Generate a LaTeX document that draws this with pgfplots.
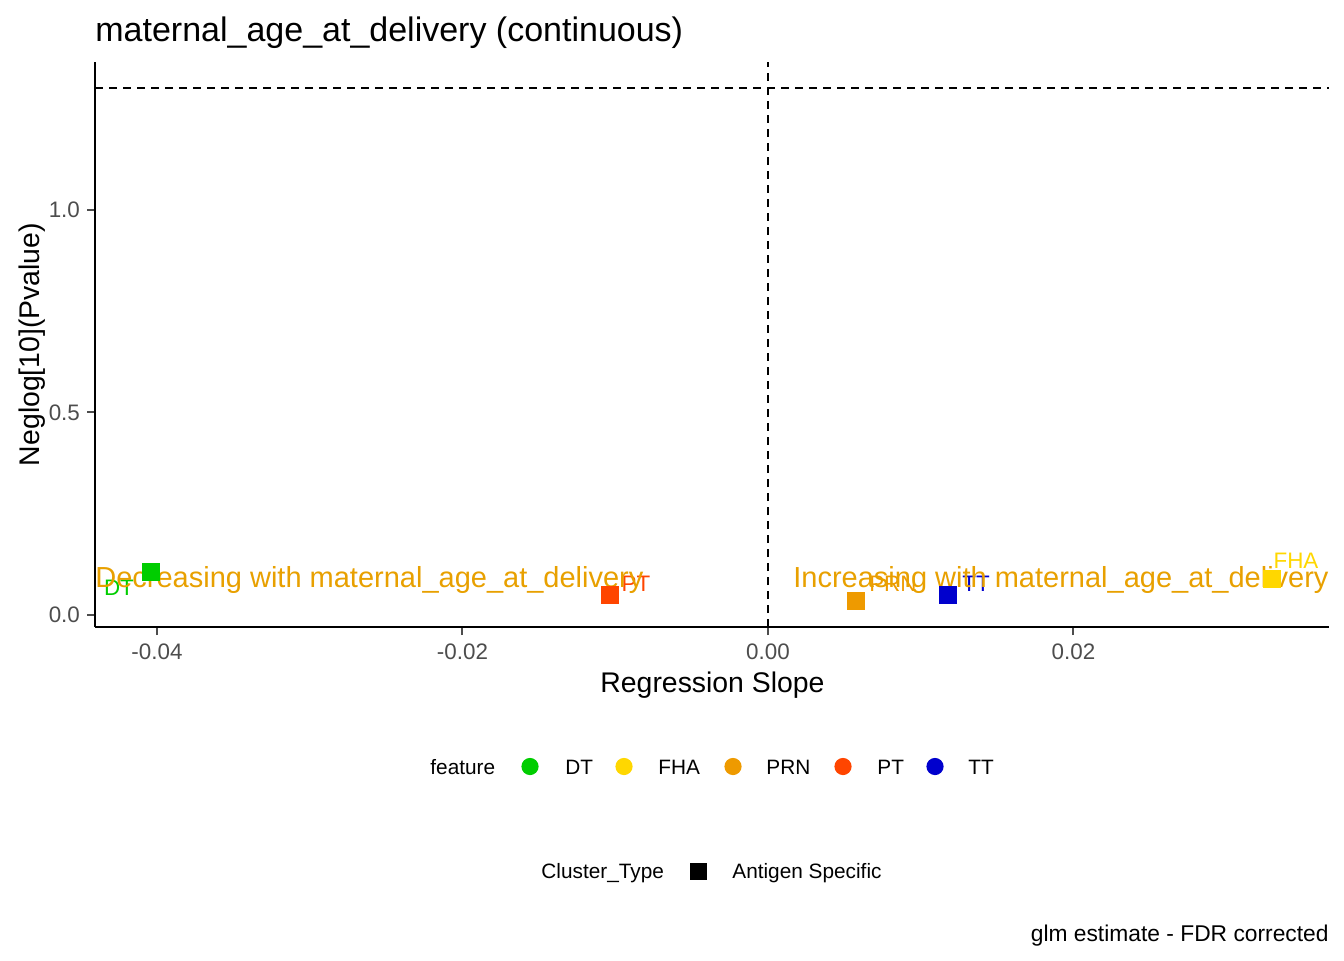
\documentclass[border=0pt]{standalone}
\usepackage{fontspec}
\setmainfont{Liberation Sans}
\usepackage{pgfplots}
\pgfplotsset{compat=1.18}
\definecolor{DTc}{RGB}{0,205,0}
\definecolor{FHAc}{RGB}{255,215,0}
\definecolor{PRNc}{RGB}{238,154,0}
\definecolor{PTc}{RGB}{255,69,0}
\definecolor{TTc}{RGB}{0,0,205}
\definecolor{annc}{RGB}{232,160,0}
\definecolor{tickgray}{RGB}{77,77,77}
\newcommand{\fs}[1]{\fontsize{#1}{#1}\selectfont}
\begin{document}
\begin{tikzpicture}[x=1pt,y=1pt]
\useasboundingbox (0,0) rectangle (672,480);
\begin{axis}[
  at={(47.5pt,166.5pt)}, anchor=south west, scale only axis,
  width=617pt, height=282.5pt,
  xmin=-0.04406, xmax=0.03673, ymin=-0.0296, ymax=1.365,
  axis x line*=bottom, axis y line*=left,
  axis line style={black, line width=1pt, -},
  scaled x ticks=false, scaled y ticks=false,
  xtick={-0.04,-0.02,0,0.02}, xticklabels={-0.04,-0.02,0.00,0.02},
  ytick={0,0.5,1}, yticklabels={0.0,0.5,1.0},
  tick align=outside, major tick length=4pt,
  tick style={tickgray, line width=1pt},
  ticklabel style={font=\fs{11.2}, text=tickgray},
  xticklabel style={yshift=-1pt},
  clip=false,
]
\addplot[black, dashed, line width=0.9pt, dash pattern=on 4pt off 3pt] coordinates {(0,-0.0296) (0,1.365)};
\addplot[black, dashed, line width=0.9pt, dash pattern=on 4pt off 3pt] coordinates {(-0.04406,1.30103) (0.03673,1.30103)};
\addplot[only marks, mark=square*, mark size=4.25pt, mark options={fill=DTc, draw=DTc, line width=0pt}] coordinates {(-0.0404,0.106)};
\addplot[only marks, mark=square*, mark size=4.25pt, mark options={fill=FHAc, draw=FHAc, line width=0pt}] coordinates {(0.0330,0.0889)};
\addplot[only marks, mark=square*, mark size=4.25pt, mark options={fill=PRNc, draw=PRNc, line width=0pt}] coordinates {(0.00576,0.0346)};
\addplot[only marks, mark=square*, mark size=4.25pt, mark options={fill=PTc, draw=PTc, line width=0pt}] coordinates {(-0.01034,0.049)};
\addplot[only marks, mark=square*, mark size=4.25pt, mark options={fill=TTc, draw=TTc, line width=0pt}] coordinates {(0.01178,0.049)};
\node[text=DTc, font=\fs{11.2}, inner sep=0pt] at (axis cs:-0.04249,0.0667) {DT};
\node[text=PTc, font=\fs{11.2}, inner sep=0pt] at (axis cs:-0.00864,0.0765) {PT};
\node[text=PRNc, font=\fs{11.2}, inner sep=0pt] at (axis cs:0.00818,0.0765) {PRN};
\node[text=TTc, font=\fs{11.2}, inner sep=0pt] at (axis cs:0.01362,0.0765) {TT};
\node[text=FHAc, font=\fs{11.2}, inner sep=0pt] at (axis cs:0.03457,0.1333) {FHA};
\node[text=annc, font=\fs{14.5}, inner sep=0pt, anchor=west] at (axis cs:-0.04406,0.0864) {Decreasing with maternal\_age\_at\_delivery};
\node[text=annc, font=\fs{14.5}, inner sep=0pt, anchor=east] at (axis cs:0.03673,0.0864) {Increasing with maternal\_age\_at\_delivery};
\end{axis}
% title and axis labels
\node[anchor=base west, inner sep=0pt, font=\fs{17}] at (47.5,459) {maternal\_age\_at\_delivery (continuous)};
\node[anchor=base, inner sep=0pt, font=\fs{14.2}] at (356.25,133.6) {Regression Slope};
\node[anchor=base, inner sep=0pt, font=\fs{14.2}, rotate=90] at (19.5,307.75) {Neglog[10](Pvalue)};
% legend: feature
\node[anchor=base west, inner sep=0pt, font=\fs{10.4}] at (215,92.75) {feature};
\fill[DTc] (265,96.75) circle (4.3);
\node[anchor=base west, inner sep=0pt, font=\fs{10.4}] at (282.5,92.75) {DT};
\fill[FHAc] (312,96.75) circle (4.3);
\node[anchor=base west, inner sep=0pt, font=\fs{10.4}] at (329,92.75) {FHA};
\fill[PRNc] (366.5,96.75) circle (4.3);
\node[anchor=base west, inner sep=0pt, font=\fs{10.4}] at (383,92.75) {PRN};
\fill[PTc] (421.5,96.75) circle (4.3);
\node[anchor=base west, inner sep=0pt, font=\fs{10.4}] at (438.5,92.75) {PT};
\fill[TTc] (467.5,96.75) circle (4.3);
\node[anchor=base west, inner sep=0pt, font=\fs{10.4}] at (484,92.75) {TT};
% legend: Cluster_Type
\node[anchor=base west, inner sep=0pt, font=\fs{10.4}] at (270.5,40.75) {Cluster\_Type};
\fill[black] (344.75,40.25) rectangle (353.25,48.75);
\node[anchor=base west, inner sep=0pt, font=\fs{10.4}] at (366,40.75) {Antigen Specific};
% caption
\node[anchor=base east, inner sep=0pt, font=\fs{11.4}] at (664.5,9.5) {glm estimate - FDR corrected};
\end{tikzpicture}
\end{document}
